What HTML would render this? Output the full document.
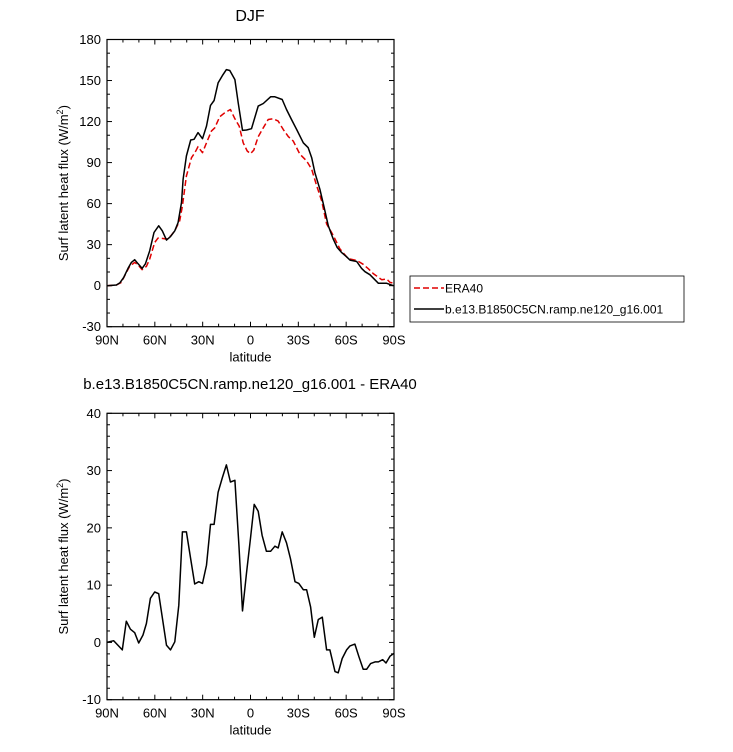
<!DOCTYPE html>
<html><head><meta charset="utf-8"><style>
body{margin:0;background:#fff;}
svg{display:block;font-family:"Liberation Sans",sans-serif;}
</style></head><body>
<svg id="chart" width="733" height="752" xmlns="http://www.w3.org/2000/svg"></svg>
<script>
// ---- data ----
const topBlackLat=[90,84.1,82,79.5,76.8,74.7,72.6,70.5,68,65.9,63.2,60.5,57.6,55.3,52.7,50.2,47.5,45.4,43.3,42.3,40.2,37.5,35.4,32.9,30.1,27.6,25.1,22.8,20.3,17.6,15.1,13,9.8,7.7,5,2.5,-0.6,-4.8,-8,-12.6,-15.3,-19.9,-22.6,-25.7,-28.9,-33.1,-36.2,-38.4,-40.4,-43.5,-46,-48.8,-51.9,-54.4,-57.1,-60.3,-62.4,-66.6,-69.7,-71.8,-74.9,-80.2,-85.4,-89.6];
const topBlackVal=[0,0.5,2,6,12.6,17,19,16,12.6,16,25.5,38.9,43.8,40.1,33.3,35.9,40.1,46.2,60.8,77.8,94.8,106.5,107,111.9,107.5,116.7,131.8,135.4,148.3,153.6,158,157.3,150.7,133.7,113.5,113.8,114.8,131.3,133.2,138.1,138.1,136.1,128.8,121.5,114.3,104.5,100.9,93.6,82.6,70.5,58.3,43.8,34,27.9,24.3,21.1,18.7,17.7,12.6,10.2,8,1.7,1.7,0];
const topRedLat=[90,84.1,81,78.9,75.8,72.6,70.5,68,65.3,63.2,60.1,58,54.8,52.7,50,47.5,44.4,42.7,40.2,37,34.9,32.9,30.1,27.6,24.5,22.4,19.3,16.2,12.6,9.8,7.1,4.6,2.1,0,-2.1,-4.8,-8,-11.1,-14.2,-17.4,-20.5,-23.7,-26.8,-31,-35.2,-38.4,-41.5,-44.6,-47.7,-51.9,-56.1,-61.3,-66.6,-70.7,-73.9,-77,-82.3,-85.4,-87.5,-89.6];
const topRedVal=[0,0.5,2.4,7.3,14.1,17,15.1,11.7,14.1,19.5,31.6,34.8,34.5,34,36.5,40.1,47.4,58.3,80.2,93.6,97.2,101.6,97.2,104.5,113,115.4,123.5,126.4,128.8,122,116.7,104.5,98.5,96.5,99.1,108.9,115.4,121.5,122,120.3,114.3,109,105.8,96.1,91.2,85.1,73,62.2,45.2,36.7,26.9,19.7,18.5,15.6,12.4,8.8,4.4,4.9,2.4,1.9];
const diffLat=[90,85.8,80.4,77.9,75.3,72.6,70.1,67.4,65.3,62.8,60.1,57.6,55.5,52.7,50.2,47.5,45,42.7,40.2,37.7,35,32.4,30.1,27.6,25.1,22.8,20.3,17.6,15.1,12.6,9.8,7.3,5,2.5,0,-2.3,-4.8,-7.3,-10,-12.6,-15.3,-17.4,-19.9,-22.6,-25.1,-27.9,-30.3,-33.1,-35.2,-37.7,-40,-42.5,-45,-47.7,-49.8,-53,-55,-57.5,-60.3,-62.4,-65.5,-68,-70.7,-72.8,-75.3,-78.1,-80.2,-82.9,-85,-87.5,-90];
const diffVal=[0,0.3,-1.3,3.7,2.3,1.7,-0.1,1.3,3.3,7.7,8.8,8.5,4.7,-0.5,-1.3,0.1,6.5,19.3,19.3,14.9,10.2,10.6,10.3,13.5,20.6,20.6,26.2,28.8,31,28,28.3,17,5.5,12.1,18.2,24.1,22.9,18.7,15.9,15.9,16.8,16.5,19.3,17.4,14.6,10.6,10.3,9.2,9.2,6.2,0.9,4,4.4,-1.3,-1.3,-5.1,-5.3,-2.8,-1.3,-0.6,-0.3,-2.5,-4.7,-4.7,-3.7,-3.4,-3.4,-3,-3.6,-2.4,-1.9];
const xTickLabels=["90N","60N","30N","0","30S","60S","90S"];
const topYTicks=[-30,0,30,60,90,120,150,180];
const botYTicks=[-10,0,10,20,30,40];

const NS="http://www.w3.org/2000/svg";
const svg=document.getElementById('chart');
function mk(tag,attrs,parent){const e=document.createElementNS(NS,tag);for(const k in attrs)e.setAttribute(k,attrs[k]);(parent||svg).appendChild(e);return e;}
function txt(s,attrs,parent){const e=mk('text',attrs,parent);e.textContent=s;return e;}

function panel(name,L,R,T,B,ymin,ymax,yTicks,minorStep){
  const g=mk('g',{});
  
  
  const xs=lat=>L+(90-lat)/180*(R-L);
  const ys=v=>B-(v-ymin)/(ymax-ymin)*(B-T);
  const fr=mk('rect',{x:L,y:T,width:R-L,height:B-T,fill:'none',stroke:'#000','stroke-width':1.2},g);
  
  
  // x ticks
  for(let lat=90;lat>=-90;lat-=10){
    const major=lat%30===0,len=major?5:3,x=xs(lat);
    mk('line',{x1:x,x2:x,y1:B,y2:B-len,stroke:'#000','stroke-width':1},g);
    mk('line',{x1:x,x2:x,y1:T,y2:T+len,stroke:'#000','stroke-width':1},g);
  }
  xTickLabels.forEach((s,i)=>{
    const t=txt(s,{x:xs(90-30*i),y:B+18,'text-anchor':'middle','font-size':13},g);
    
    
  });
  for(let v=ymin;v<=ymax+1e-6;v+=minorStep){
    const major=yTicks.some(t=>Math.abs(t-v)<1e-6),len=major?5:3,y=ys(v);
    mk('line',{x1:L,x2:L+len,y1:y,y2:y,stroke:'#000','stroke-width':1},g);
    mk('line',{x1:R,x2:R-len,y1:y,y2:y,stroke:'#000','stroke-width':1},g);
  }
  yTicks.forEach(v=>{
    const t=txt(String(v),{x:L-6,y:ys(v)+4.5,'text-anchor':'end','font-size':13},g);
    
    
  });
  const xl=txt('latitude',{x:(L+R)/2,y:B+35,'text-anchor':'middle','font-size':13},g);
  
  
  const cy=(T+B)/2;
  const yl=mk('text',{x:68,y:cy,'text-anchor':'middle','font-size':13,transform:`rotate(-90 68 ${cy})`},g);
  
  
  yl.innerHTML='Surf latent heat flux (W/m<tspan font-size="9" dy="-5">2</tspan><tspan dy="5">)</tspan>';
  return {g,xs,ys};
}
function series(p,lats,vals,color,dash,name){
  const d=lats.map((la,i)=>(i?'L':'M')+p.xs(la).toFixed(1)+','+p.ys(vals[i]).toFixed(1)).join('');
  const a={d:d,fill:'none',stroke:color,'stroke-width':1.5,'stroke-linejoin':'round'};
  if(dash)a['stroke-dasharray']=dash;
  const e=mk('path',a,p.g);
  
  
}

const t1=txt('DJF',{x:250,y:21,'text-anchor':'middle','font-size':16});


const p1=panel('top-panel',107,394,39.5,326.7,-30,180,topYTicks,10);
series(p1,topRedLat,topRedVal,'#e00000','6,3','era40-line');
series(p1,topBlackLat,topBlackVal,'#000',null,'model-line');

// legend
const lg=mk('g',{});


mk('rect',{x:410,y:276,width:274,height:46,fill:'#fff',stroke:'#000','stroke-width':0.8},lg);
mk('line',{x1:414,x2:444,y1:288,y2:288,stroke:'#e00000','stroke-width':1.5,'stroke-dasharray':'6,3'},lg);
const le1=txt('ERA40',{x:445,y:292.5,'font-size':12},lg);


mk('line',{x1:414,x2:444,y1:309,y2:309,stroke:'#000','stroke-width':1.5},lg);
const le2=txt('b.e13.B1850C5CN.ramp.ne120_g16.001',{x:445,y:313.5,'font-size':12},lg);



const t2=txt('b.e13.B1850C5CN.ramp.ne120_g16.001 - ERA40',{x:250,y:389,'text-anchor':'middle','font-size':15});


const p2=panel('bottom-panel',107,394,413.3,699.7,-10,40,botYTicks,2);
series(p2,diffLat,diffVal,'#000',null,'difference-line');
</script>
</body></html>
